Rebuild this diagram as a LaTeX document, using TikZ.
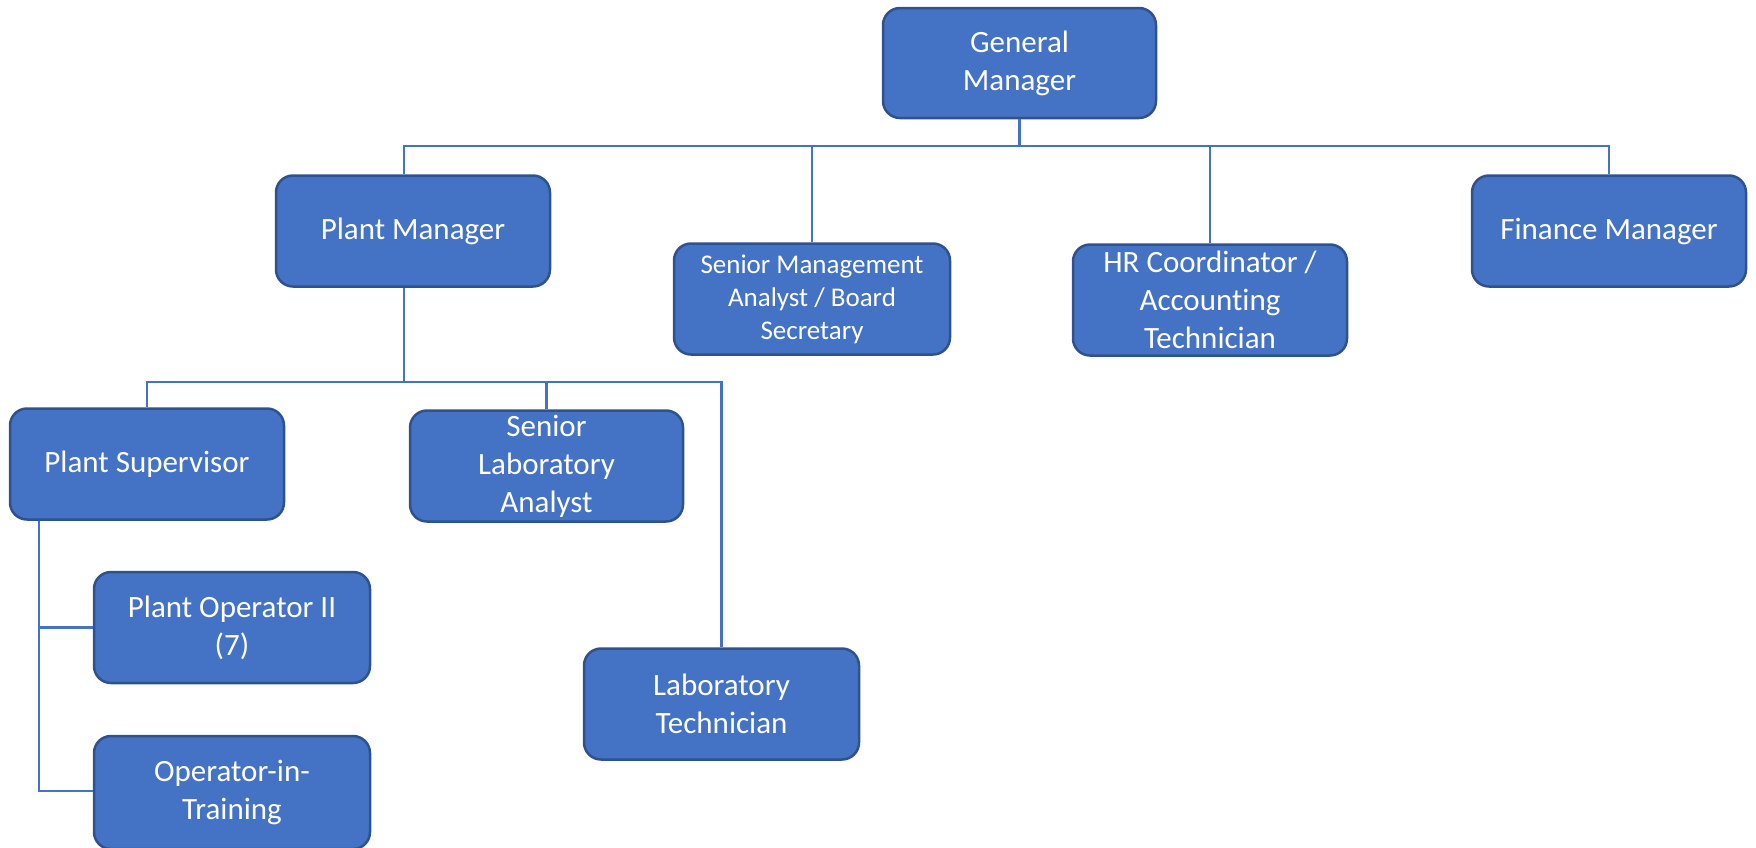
\documentclass[tikz,border=0pt]{standalone}
\usepackage{fontspec}
\setmainfont{Carlito}[Ligatures={NoCommon}]
\definecolor{boxfill}{HTML}{4472C4}
\definecolor{boxline}{HTML}{2F528F}
\definecolor{conn}{HTML}{4472C4}
\tikzset{
  orgbox/.style={draw=boxline, fill=boxfill, line width=2.5pt, rounded corners=17pt,
    text=white, align=center, inner sep=0pt, minimum width=274pt, minimum height=111pt,
    font=\fontsize{31}{38}\selectfont},
  smallbox/.style={orgbox, font=\fontsize{27}{33}\selectfont},
  wire/.style={draw=conn, line width=2.2pt}
}
\begin{document}
\begin{tikzpicture}[x=1pt,y=-1pt]
\useasboundingbox (0,0) rectangle (1756,847);
\node[orgbox, minimum width=273pt, minimum height=110pt] (GM) at (1019.5,63) {General\\Manager};
\node[orgbox] (PM) at (413,231) {Plant Manager};
\node[smallbox, minimum width=276pt] (SMA) at (812,299) {Senior Management\\Analyst / Board\\Secretary};
\node[orgbox] (HR) at (1210,300) {HR Coordinator /\\Accounting\\Technician};
\node[orgbox] (FM) at (1609,231) {Finance Manager};
\node[orgbox] (PS) at (147,464) {Plant Supervisor};
\node[orgbox, minimum width=273pt] (SLA) at (546.5,466) {Senior\\Laboratory\\Analyst};
\node[orgbox, minimum width=275pt] (LT) at (721.5,704) {Laboratory\\Technician};
\node[orgbox, minimum width=276pt] (PO) at (232,627.5) {Plant Operator II\\(7)};
\node[orgbox, minimum width=276pt, minimum height=113pt] (OIT) at (232,792.5) {Operator-in-\\Training};

\coordinate (b1) at (404,146);
\coordinate (b2) at (1609,146);
\coordinate (pmb) at (404,383);
\coordinate (sv) at (39,0);
\coordinate (ot) at (0,791);

% top level bus
\draw[wire] (b1 |- PM.north) -- (b1) -- (b2) -- (FM.north);
\draw[wire] (GM.south) -- (GM.south |- b1);
\draw[wire] (SMA.north) -- (SMA.north |- b1);
\draw[wire] (HR.north) -- (HR.north |- b1);

% plant manager bus
\draw[wire] (pmb |- PM.south) -- (pmb);
\draw[wire] (PS.north) -- ++(0,-25) -| (LT.north);
\draw[wire] (SLA.north) -- (SLA.north |- pmb);

% supervisor
\draw[wire] (sv |- PS.south) -- (sv |- ot) -- (OIT.west |- ot);
\draw[wire] (sv |- PO.west) -- (PO.west);
\end{tikzpicture}
\end{document}
